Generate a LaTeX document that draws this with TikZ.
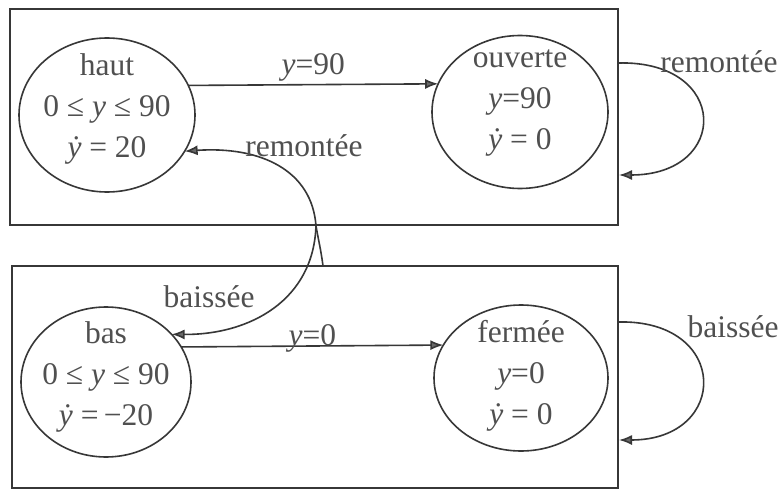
\documentclass[tikz,border=0pt]{standalone}
\usepackage{fontspec}
\setmainfont{Liberation Serif}
\usetikzlibrary{arrows.meta,shapes.geometric}
\definecolor{ink}{RGB}{55,55,55}
\definecolor{textgray}{RGB}{80,80,80}
\newcommand{\yv}{\textit{y}}
\newcommand{\yd}{{\itshape\accent"02D9 y}}
\begin{document}
\begin{tikzpicture}[x=1pt,y=-1pt,
  box/.style={draw=ink, line width=1.6pt, inner sep=0pt, outer sep=0pt},
  state/.style={ellipse, draw=ink, line width=1.6pt, inner sep=0pt, outer sep=0pt},
  lbl/.style={text=textgray, font=\fontsize{31.5}{41}\selectfont, inner sep=0pt},
  stxt/.style={lbl, align=center},
  arr/.style={draw=ink, line width=1.6pt, -{Latex[length=13pt,width=10pt,fill=ink!75]}}]
\fill[white] (0,0) rectangle (784,492);
\useasboundingbox (0,0) rectangle (784,492);
% boxes
\node[box, minimum width=608pt, minimum height=216pt] (topbox) at (314,117) {};
\node[box, minimum width=606pt, minimum height=222pt] (botbox) at (315,377) {};
% states
\node[state, minimum width=176pt, minimum height=154pt] (haut) at (107,115) {};
\node[state, minimum width=176pt, minimum height=153pt] (ouverte) at (520,112) {};
\node[state, minimum width=170pt, minimum height=150pt] (bas) at (106,382) {};
\node[state, minimum width=174pt, minimum height=146pt] (fermee) at (521,378) {};
% state texts
\node[stxt] (hautt) at (107,109) {haut\\0 ≤ \yv{} ≤ 90\\\yd{} = 20};
\node[stxt] (ouvertet) at (520,103) {ouverte\\\yv=90\\\yd{} = 0};
\node[stxt] (bast) at (106,377) {bas\\0 ≤ \yv{} ≤ 90\\\yd{} =\,−20};
\node[stxt] (fermeet) at (521,376) {fermée\\\yv=0\\\yd{} = 0};
% straight transitions
\draw[arr] (haut.20) -- node[lbl, anchor=base, yshift=10pt] (l90) {\yv=90} (ouverte.161);
\draw[arr] (bas.25) -- node[lbl, anchor=base, yshift=1pt] (l0) {\yv=0} (fermee.157);
% self loops
\coordinate (ls1) at (618,63);
\coordinate (le1) at (619,175);
\draw[arr] (ls1) .. controls (730,60) and (730,175) .. (le1);
\node[lbl, anchor=base] (lrem1) at (719,73) {remontée};
\coordinate (ls2) at (618,322);
\coordinate (le2) at (619,440);
\draw[arr] (ls2) .. controls (730,319) and (730,440) .. (le2);
\node[lbl, anchor=base] (lbai1) at (733,337) {baissée};
% crossing transitions
\coordinate (rs) at (323,266);
\coordinate (rm) at (316,226);
\draw[arr] (rs) .. controls (321,250) and (318,238) .. (rm) .. controls (312,170) and (260,146) .. (haut.-25);
\node[lbl, anchor=base] (lrem2) at (304,156) {remontée};
\coordinate (bs) at (316,225);
\draw[arr] (bs) .. controls (314,300) and (250,335) .. (bas.36);
\node[lbl, anchor=base] (lbai2) at (209,307) {baissée};
\end{tikzpicture}
\end{document}
